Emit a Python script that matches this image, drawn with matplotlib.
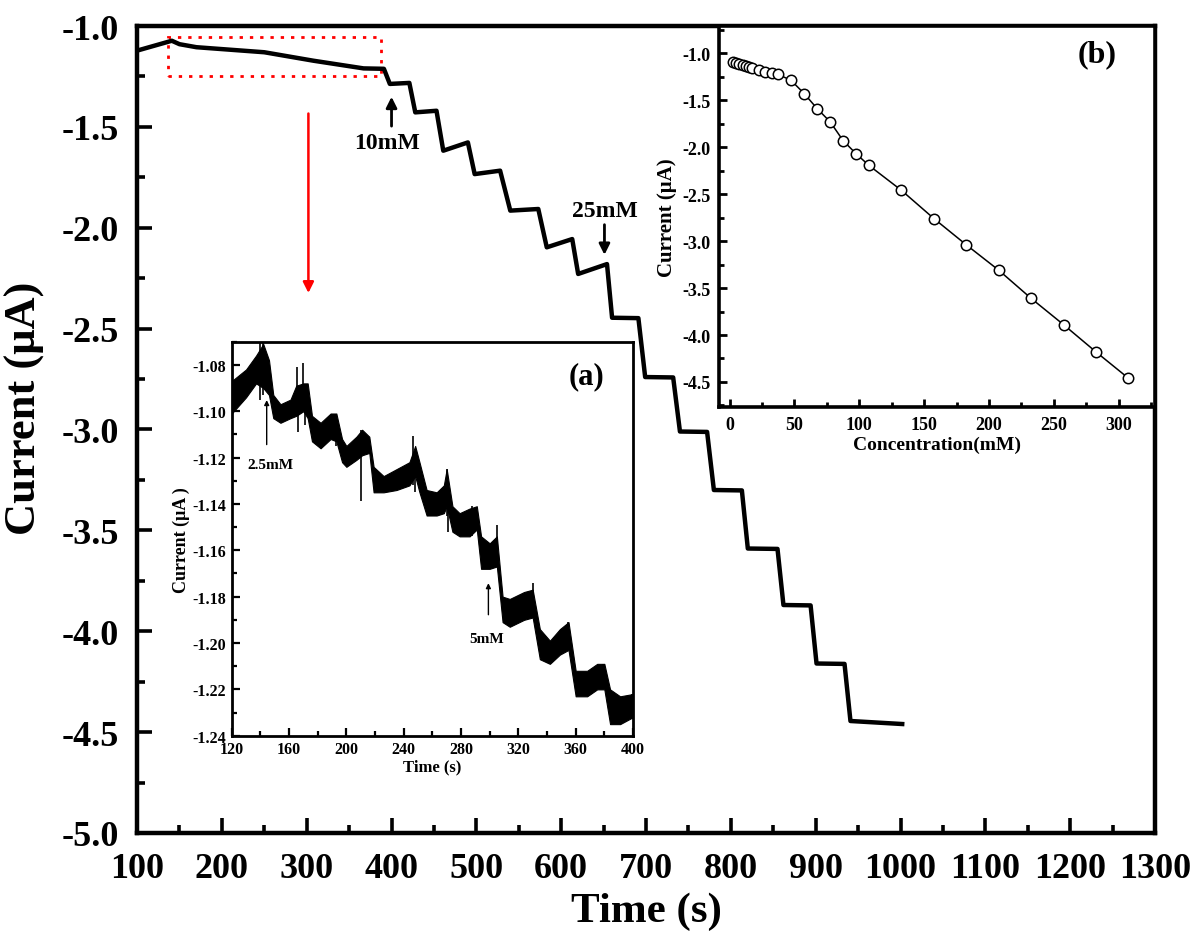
import numpy as np
import matplotlib
matplotlib.use('Agg')
import matplotlib.pyplot as plt
from matplotlib.ticker import MultipleLocator, FormatStrFormatter
from matplotlib.patches import Rectangle

plt.rcParams['font.family'] = ['Liberation Serif', 'DejaVu Serif']
plt.rcParams['font.weight'] = 'bold'
plt.rcParams['axes.unicode_minus'] = False

# ---------------- main amperometric trace (knots) ----------------
main_time = [100, 141, 150, 170, 250, 308, 367, 391, 398, 421, 428, 453, 461, 490, 498, 528,
             540, 573, 583, 613, 620, 654, 660, 691, 699, 732, 740, 772, 780, 813, 820, 855,
             862, 894, 901, 934, 941, 1002]
main_current = [-1.122, -1.073, -1.09, -1.105, -1.13, -1.172, -1.21, -1.212, -1.287, -1.282,
                -1.428, -1.420, -1.618, -1.577, -1.734, -1.717, -1.915, -1.907, -2.097, -2.056,
                -2.229, -2.180, -2.446, -2.448, -2.740, -2.742, -3.010, -3.012, -3.300, -3.302,
                -3.590, -3.592, -3.870, -3.872, -4.160, -4.162, -4.445, -4.460]

# ---------------- inset (a): noisy band envelope ----------------
inset_t = [120, 130, 137, 142, 146, 149, 154, 161, 165, 170, 173, 176, 182, 189, 193, 197, 200,
           207, 211, 216, 219, 226, 235, 244, 248, 251, 256, 263, 268, 270, 274, 279, 286, 291,
           294, 300, 305, 309, 314, 324, 330, 335, 342, 349, 355, 360, 368, 375, 380, 384, 391, 400]
inset_hi = [-1.087, -1.082, -1.076, -1.071, -1.078, -1.093, -1.097, -1.095, -1.089, -1.088, -1.088,
            -1.102, -1.105, -1.101, -1.101, -1.112, -1.115, -1.111, -1.108, -1.111, -1.124, -1.128,
            -1.125, -1.122, -1.115, -1.122, -1.134, -1.135, -1.132, -1.125, -1.141, -1.144, -1.142,
            -1.141, -1.154, -1.157, -1.154, -1.180, -1.181, -1.178, -1.177, -1.194, -1.199, -1.194,
            -1.191, -1.212, -1.212, -1.209, -1.209, -1.220, -1.223, -1.222]
inset_lo = [-1.101, -1.094, -1.088, -1.090, -1.093, -1.103, -1.105, -1.103, -1.102, -1.100, -1.103,
            -1.113, -1.116, -1.112, -1.113, -1.122, -1.124, -1.121, -1.119, -1.118, -1.135, -1.135,
            -1.134, -1.132, -1.128, -1.135, -1.145, -1.145, -1.144, -1.141, -1.152, -1.154, -1.154,
            -1.151, -1.168, -1.168, -1.167, -1.191, -1.193, -1.190, -1.189, -1.207, -1.209, -1.205,
            -1.203, -1.223, -1.223, -1.220, -1.220, -1.235, -1.235, -1.232]
spike_t = [139.8, 142, 165.3, 166.5, 170, 171, 192.6, 210, 246.7, 247.9, 270, 270.7, 287.4,
           305.3, 330.5, 354.9, 379.3, 399]
spike_hi = [-1.070, -1.070, -1.081, -1.090, -1.079, -1.090, -1.102, -1.108, -1.1106, -1.122,
            -1.125, -1.141, -1.141, -1.149, -1.174, -1.191, -1.209, -1.222]
spike_lo = [-1.095, -1.093, -1.102, -1.109, -1.100, -1.106, -1.115, -1.1387, -1.132, -1.135,
            -1.145, -1.152, -1.154, -1.167, -1.189, -1.203, -1.220, -1.233]

# ---------------- inset (b): calibration ----------------
conc = [2.5, 5, 7.5, 10, 12.5, 15, 17.5, 22.5, 27.5, 32.5, 37.5, 47.5, 57.5, 67.5, 77.5, 87.5,
        97.5, 107.5, 132.5, 157.5, 182.5, 207.5, 232.5, 257.5, 282.5, 307.5]
calib_current = [-1.095, -1.105, -1.115, -1.125, -1.135, -1.145, -1.16, -1.18, -1.195, -1.21,
                 -1.225, -1.29, -1.43, -1.59, -1.73, -1.93, -2.07, -2.195, -2.46, -2.76, -3.04,
                 -3.31, -3.61, -3.89, -4.18, -4.46]

fig = plt.figure(figsize=(12, 9.45), dpi=100)

# ---------------- main axes ----------------
ax = fig.add_axes([0.1142, 0.1175, 0.8483, 0.8539])
ax.plot(main_time, main_current, color='black', lw=3.2, solid_joinstyle='round')
ax.set_xlim(100, 1300)
ax.set_ylim(-5.0, -1.0)
ax.xaxis.set_major_locator(MultipleLocator(100))
ax.xaxis.set_minor_locator(MultipleLocator(50))
ax.yaxis.set_major_locator(MultipleLocator(0.5))
ax.yaxis.set_minor_locator(MultipleLocator(0.25))
ax.yaxis.set_major_formatter(FormatStrFormatter('%.1f'))
ax.tick_params(which='both', direction='in', top=False, right=False, width=2.6)
ax.tick_params(which='major', length=11, labelsize=26)
ax.tick_params(axis='y', which='major', pad=13)
ax.tick_params(axis='x', which='major', pad=14)
ax.tick_params(which='minor', length=6)
for s in ax.spines.values():
    s.set_linewidth(3.2)
ax.set_xlabel('Time (s)', fontsize=31, fontweight='bold')
ax.xaxis.set_label_coords(0.5, -0.073)
ax.set_ylabel('Current (\u03bcA)', fontsize=32, fontweight='bold', va='center')
ax.yaxis.set_label_coords(-0.110, 0.528)

ax.annotate('', xy=(400, -1.337), xytext=(400, -1.51),
            arrowprops=dict(arrowstyle='-|>', color='black', lw=2, mutation_scale=16))
ax.text(395, -1.577, '10mM', ha='center', va='center', fontsize=17, fontweight='bold')
ax.annotate('', xy=(651, -2.148), xytext=(651, -1.971),
            arrowprops=dict(arrowstyle='-|>', color='black', lw=2, mutation_scale=16))
ax.text(652, -1.912, '25mM', ha='center', va='center', fontsize=17, fontweight='bold')
ax.add_patch(Rectangle((136.9, -1.249), 250.5, 0.193, fill=False, ec='red', lw=2,
                       ls=(0, (1.2, 2.5))))
ax.annotate('', xy=(302, -2.337), xytext=(302, -1.42),
            arrowprops=dict(arrowstyle='-|>', color='red', lw=1.8, mutation_scale=16))

# ---------------- inset (a) ----------------
axa = fig.add_axes([0.1931, 0.2204, 0.3344, 0.417])
axa.fill_between(inset_t, inset_lo, inset_hi, color='black', lw=0.8)
axa.vlines(spike_t, spike_lo, spike_hi, color='black', lw=1.2)
axa.set_xlim(120, 400)
axa.set_ylim(-1.24, -1.07)
axa.xaxis.set_major_locator(MultipleLocator(40))
axa.xaxis.set_minor_locator(MultipleLocator(20))
axa.yaxis.set_major_locator(MultipleLocator(0.02))
axa.yaxis.set_minor_locator(MultipleLocator(0.01))
axa.yaxis.set_major_formatter(FormatStrFormatter('%.2f'))
axa.tick_params(which='both', direction='in', top=False, right=False, width=1.6, labelsize=11.5)
axa.tick_params(which='major', length=6, pad=4)
axa.tick_params(which='minor', length=3.5)
for s in axa.spines.values():
    s.set_linewidth(2)
axa.set_xlabel('Time (s)', fontsize=12, fontweight='bold', labelpad=1)
axa.set_ylabel('Current (\u03bcA )', fontsize=13, fontweight='bold', labelpad=2)
axa.text(367.6, -1.0848, '(a)', ha='center', va='center', fontsize=22, fontweight='bold')
axa.text(147.1, -1.1228, '2.5mM', ha='center', va='center', fontsize=11, fontweight='bold')
axa.text(298.2, -1.1979, '5mM', ha='center', va='center', fontsize=11, fontweight='bold')
axa.annotate('', xy=(144.4, -1.094), xytext=(144.4, -1.1156),
             arrowprops=dict(arrowstyle='-|>', color='black', lw=1, mutation_scale=7))
axa.annotate('', xy=(299.1, -1.173), xytext=(299.1, -1.189),
             arrowprops=dict(arrowstyle='-|>', color='black', lw=1, mutation_scale=7))

# ---------------- inset (b) ----------------
axb = fig.add_axes([0.5994, 0.5679, 0.3631, 0.4035])
axb.plot(conc, calib_current, 'o-', color='black', mfc='white', mec='black', ms=7.5,
         mew=1.1, lw=1.1)
axb.set_xlim(-8, 328)
axb.set_ylim(-4.77, -0.71)
axb.xaxis.set_major_locator(MultipleLocator(50))
axb.xaxis.set_minor_locator(MultipleLocator(25))
axb.yaxis.set_major_locator(MultipleLocator(0.5))
axb.yaxis.set_minor_locator(MultipleLocator(0.25))
axb.yaxis.set_major_formatter(FormatStrFormatter('%.1f'))
axb.tick_params(which='both', direction='in', top=False, right=False, width=2, labelsize=13)
axb.tick_params(which='major', length=6, pad=6)
axb.tick_params(which='minor', length=3.5)
for s in axb.spines.values():
    s.set_linewidth(2.6)
axb.set_xlabel('Concentration(mM)', fontsize=14, fontweight='bold', labelpad=2)
axb.set_ylabel('Current (\u03bcA)', fontsize=15, fontweight='bold', labelpad=4)
axb.text(283, -1.007, '(b)', ha='center', va='center', fontsize=23, fontweight='bold')

fig.savefig('out.png', dpi=100)
